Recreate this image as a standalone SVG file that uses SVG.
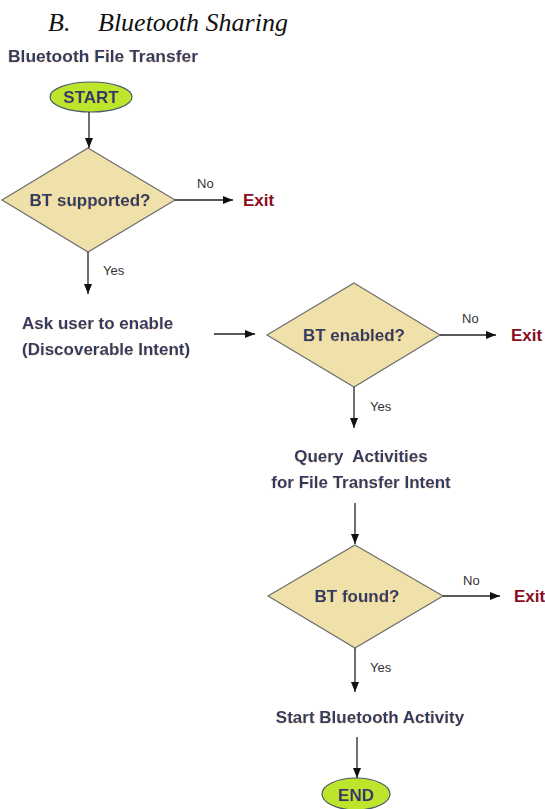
<svg xmlns="http://www.w3.org/2000/svg" width="545" height="809" viewBox="0 0 545 809">
<style>
.title{font-family:"Liberation Serif",serif;font-style:italic;font-size:26px;fill:#111}
.lbl{font-family:"Liberation Sans",Arial,sans-serif;font-weight:bold;font-size:17px;fill:#2a3d66;filter:url(#glow)}
.exit{font-family:"Liberation Sans",Arial,sans-serif;font-weight:bold;font-size:17px;fill:#8a0c1e}
.small{font-family:"Liberation Sans",Arial,sans-serif;font-size:13px;fill:#333}
.dia{fill:#efe1a9;stroke:#6e6e6e;stroke-width:1.2}
.term{fill:#bde52c;stroke:#4a5a6a;stroke-width:1.2}
.con{stroke:#222;stroke-width:1.3;fill:none;marker-end:url(#ah)}
</style>
<defs>
<marker id="ah" markerWidth="10" markerHeight="8" refX="10" refY="4" orient="auto" markerUnits="userSpaceOnUse">
<path d="M0,0 L10,4 L0,8 Z" fill="#111"/>
</marker>
<filter id="glow" x="-5%" y="-20%" width="110%" height="140%">
<feDropShadow dx="-0.5" dy="0.5" stdDeviation="0.3" flood-color="#f0a040" flood-opacity="0.45"/>
</filter>
</defs>
<text class="title" x="48" y="31">B.<tspan x="98">Bluetooth Sharing</tspan></text>
<text class="lbl" x="8" y="62" textLength="190" lengthAdjust="spacingAndGlyphs">Bluetooth File Transfer</text>

<g id="start">
<ellipse class="term" cx="91" cy="97" rx="41" ry="15"/>
<text class="lbl" x="91" y="103" text-anchor="middle">START</text>
</g>
<g id="bt-supported">
<polygon class="dia" points="88,148 175,200 88,252 2,200"/>
<text class="lbl" x="90" y="206" text-anchor="middle">BT supported?</text>
</g>
<g id="exit1"><text class="exit" x="243" y="206">Exit</text></g>
<g id="ask-user">
<text class="lbl" x="22" y="329">Ask user to enable</text>
<text class="lbl" x="22" y="355">(Discoverable Intent)</text>
</g>
<g id="bt-enabled">
<polygon class="dia" points="354,283 440,335 354,387 267,335"/>
<text class="lbl" x="354" y="341" text-anchor="middle">BT enabled?</text>
</g>
<g id="exit2"><text class="exit" x="511" y="341">Exit</text></g>
<g id="query">
<text class="lbl" x="361" y="462" text-anchor="middle" xml:space="preserve">Query  Activities</text>
<text class="lbl" x="361" y="488" text-anchor="middle">for File Transfer Intent</text>
</g>
<g id="bt-found">
<polygon class="dia" points="355,545 443,596 355,648 268,596"/>
<text class="lbl" x="357" y="602" text-anchor="middle">BT found?</text>
</g>
<g id="exit3"><text class="exit" x="514" y="602">Exit</text></g>
<g id="start-activity">
<text class="lbl" x="370" y="723" text-anchor="middle">Start Bluetooth Activity</text>
</g>
<g id="end">
<ellipse class="term" cx="356" cy="794" rx="34" ry="16"/>
<text class="lbl" x="356" y="801" text-anchor="middle">END</text>
</g>

<g id="connectors">
<line class="con" x1="89" y1="112" x2="89" y2="148"/>
<line class="con" x1="175" y1="200" x2="233" y2="200"/>
<text class="small" x="197" y="188">No</text>
<line class="con" x1="88" y1="252" x2="88" y2="294"/>
<text class="small" x="103" y="275">Yes</text>
<line class="con" x1="214" y1="334" x2="255" y2="334"/>
<line class="con" x1="440" y1="335" x2="496" y2="335"/>
<text class="small" x="462" y="323">No</text>
<line class="con" x1="354" y1="387" x2="354" y2="428"/>
<text class="small" x="370" y="411">Yes</text>
<line class="con" x1="355" y1="503" x2="355" y2="544"/>
<line class="con" x1="443" y1="596" x2="500" y2="596"/>
<text class="small" x="463" y="585">No</text>
<line class="con" x1="355" y1="648" x2="355" y2="692"/>
<text class="small" x="370" y="672">Yes</text>
<line class="con" x1="357" y1="737" x2="357" y2="778"/>
</g>
</svg>
